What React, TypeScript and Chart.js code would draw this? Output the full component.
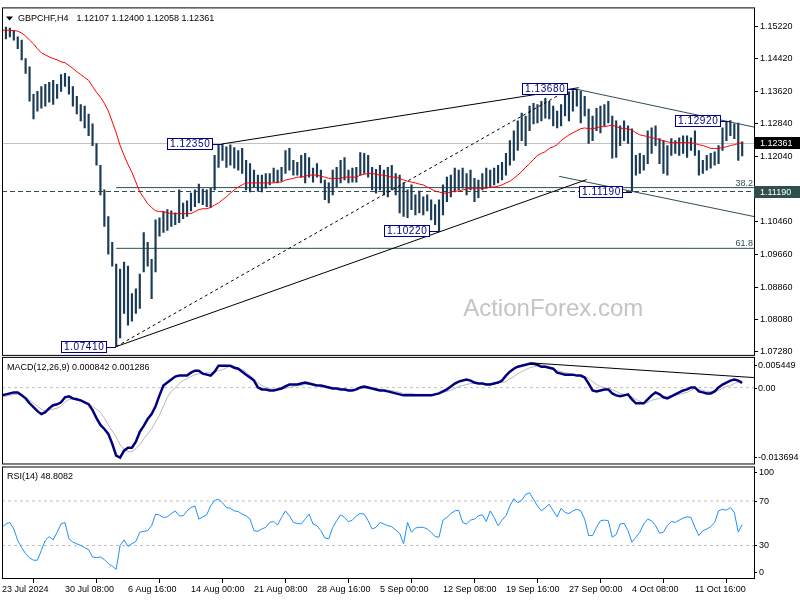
import React, { useEffect, useRef } from 'react';
import { Chart, registerables } from 'chart.js';

Chart.register(...registerables);

// ---------- text ----------
const symbolTitle = 'GBPCHF,H4';
const lastBarOHLC = ['1.12107', '1.12400', '1.12058', '1.12361'];
const macdTitle = 'MACD(12,26,9) 0.000842 0.001286';
const rsiTitle = 'RSI(14) 48.8082';
const watermark = 'ActionForex.com';

// ---------- time axis (one slot = two H4 bars) ----------
const timeTickLabels = [
  '23 Jul 2024', '30 Jul 08:00', '6 Aug 16:00', '14 Aug 00:00', '21 Aug 08:00', '28 Aug 16:00',
  '5 Sep 00:00', '12 Sep 08:00', '19 Sep 16:00', '27 Sep 00:00', '4 Oct 08:00', '11 Oct 16:00',
];
const TICK_STEP = 16;
const LAST_SLOT = 191;

// ---------- price bars ----------
const barHigh = [
  1.1515, 1.1520, 1.1517, 1.1512, 1.1496, 1.1488, 1.1443, 1.1423, 1.1356, 1.1363,
  1.1375, 1.1380, 1.1385, 1.1390, 1.1380, 1.1404, 1.1407, 1.1399, 1.1375, 1.1351,
  1.1331, 1.1327, 1.1308, 1.1284, 1.1236, 1.1183, 1.1123, 1.1058, 1.0995, 1.0942,
  1.0930, 1.0947, 1.0937, 1.0870, 1.0882, 1.0918, 1.1019, 1.0995, 1.0954, 1.1050,
  1.1055, 1.1070, 1.1075, 1.1072, 1.1067, 1.1123, 1.1091, 1.1096, 1.1115, 1.1123,
  1.1137, 1.1125, 1.1123, 1.1127, 1.1207, 1.1232, 1.1235, 1.1228, 1.1233, 1.1226,
  1.1219, 1.1224, 1.1195, 1.1187, 1.1171, 1.1159, 1.1159, 1.1163, 1.1163, 1.1176,
  1.1171, 1.1178, 1.1219, 1.1224, 1.1195, 1.1190, 1.1207, 1.1212, 1.1202, 1.1176,
  1.1187, 1.1171, 1.1147, 1.1140, 1.1171, 1.1178, 1.1195, 1.1202, 1.1171, 1.1176,
  1.1178, 1.1214, 1.1212, 1.1207, 1.1178, 1.1173, 1.1183, 1.1171, 1.1178, 1.1183,
  1.1163, 1.1159, 1.1140, 1.1123, 1.1135, 1.1111, 1.1120, 1.1106, 1.1111, 1.1099,
  1.1087, 1.1099, 1.1135, 1.1154, 1.1159, 1.1176, 1.1171, 1.1176, 1.1163, 1.1171,
  1.1151, 1.1147, 1.1163, 1.1176, 1.1171, 1.1176, 1.1183, 1.1190, 1.1212, 1.1243,
  1.1267, 1.1291, 1.1310, 1.1303, 1.1327, 1.1334, 1.1331, 1.1339, 1.1346, 1.1339,
  1.1327, 1.1315, 1.1331, 1.1360, 1.1362, 1.1365, 1.1368, 1.1363, 1.1351, 1.1320,
  1.1303, 1.1322, 1.1327, 1.1331, 1.1339, 1.1303, 1.1291, 1.1279, 1.1291, 1.1279,
  1.1272, 1.1207, 1.1212, 1.1207, 1.1267, 1.1274, 1.1279, 1.1248, 1.1243, 1.1231,
  1.1248, 1.1243, 1.1250, 1.1255, 1.1255, 1.1250, 1.1267, 1.1219, 1.1195, 1.1207,
  1.1212, 1.1216, 1.1231, 1.1274, 1.1288, 1.1292, 1.1284, 1.1286, 1.1240,
];
const barLow = [
  1.1488, 1.1491, 1.1496, 1.1488, 1.1467, 1.1440, 1.1407, 1.1339, 1.1296, 1.1315,
  1.1322, 1.1327, 1.1337, 1.1331, 1.1346, 1.1363, 1.1375, 1.1356, 1.1327, 1.1308,
  1.1291, 1.1274, 1.1255, 1.1231, 1.1183, 1.1111, 1.1034, 1.0966, 1.0937, 1.0741,
  1.0762, 1.0822, 1.0793, 1.0803, 1.0822, 1.0834, 1.0923, 1.0937, 1.0858, 1.0923,
  1.1010, 1.1019, 1.1024, 1.1034, 1.1038, 1.1043, 1.1053, 1.1058, 1.1072, 1.1082,
  1.1091, 1.1087, 1.1082, 1.1080, 1.1123, 1.1178, 1.1195, 1.1178, 1.1183, 1.1176,
  1.1171, 1.1163, 1.1123, 1.1118, 1.1130, 1.1120, 1.1118, 1.1127, 1.1135, 1.1142,
  1.1140, 1.1144, 1.1163, 1.1171, 1.1159, 1.1159, 1.1154, 1.1140, 1.1154, 1.1142,
  1.1154, 1.1140, 1.1099, 1.1091, 1.1111, 1.1130, 1.1140, 1.1147, 1.1140, 1.1142,
  1.1142, 1.1159, 1.1163, 1.1154, 1.1123, 1.1115, 1.1123, 1.1111, 1.1106, 1.1123,
  1.1111, 1.1067, 1.1058, 1.1055, 1.1075, 1.1062, 1.1067, 1.1062, 1.1072, 1.1050,
  1.1038, 1.1022, 1.1062, 1.1094, 1.1106, 1.1118, 1.1123, 1.1127, 1.1111, 1.1123,
  1.1094, 1.1104, 1.1123, 1.1127, 1.1130, 1.1135, 1.1140, 1.1147, 1.1159, 1.1183,
  1.1195, 1.1219, 1.1243, 1.1231, 1.1267, 1.1284, 1.1286, 1.1291, 1.1298, 1.1296,
  1.1279, 1.1274, 1.1279, 1.1303, 1.1291, 1.1315, 1.1327, 1.1286, 1.1303, 1.1236,
  1.1243, 1.1267, 1.1262, 1.1279, 1.1286, 1.1200, 1.1202, 1.1231, 1.1243, 1.1236,
  1.1119, 1.1159, 1.1163, 1.1171, 1.1187, 1.1212, 1.1231, 1.1187, 1.1163, 1.1159,
  1.1207, 1.1212, 1.1207, 1.1212, 1.1202, 1.1219, 1.1207, 1.1159, 1.1163, 1.1171,
  1.1176, 1.1183, 1.1187, 1.1219, 1.1243, 1.1255, 1.1248, 1.1195, 1.1206,
];

// ---------- moving average (red) ----------
const maLine = [
  1.1512, 1.1512, 1.1512, 1.1511, 1.1510, 1.1505, 1.1498, 1.1488, 1.1479, 1.1467,
  1.1457, 1.1452, 1.1447, 1.1443, 1.1440, 1.1435, 1.1433, 1.1426, 1.1419, 1.1411,
  1.1404, 1.1397, 1.1390, 1.1375, 1.1361, 1.1349, 1.1334, 1.1315, 1.1289, 1.1262,
  1.1231, 1.1207, 1.1185, 1.1166, 1.1142, 1.1118, 1.1104, 1.1089, 1.1080, 1.1072,
  1.1070, 1.1070, 1.1067, 1.1065, 1.1065, 1.1065, 1.1065, 1.1065, 1.1065, 1.1070,
  1.1075, 1.1077, 1.1077, 1.1080, 1.1086, 1.1091, 1.1099, 1.1106, 1.1115, 1.1123,
  1.1130, 1.1135, 1.1140, 1.1140, 1.1140, 1.1140, 1.1140, 1.1140, 1.1140, 1.1140,
  1.1142, 1.1142, 1.1147, 1.1149, 1.1151, 1.1154, 1.1154, 1.1156, 1.1159, 1.1159,
  1.1159, 1.1156, 1.1154, 1.1151, 1.1151, 1.1151, 1.1151, 1.1154, 1.1154, 1.1154,
  1.1154, 1.1159, 1.1161, 1.1163, 1.1163, 1.1161, 1.1159, 1.1159, 1.1156, 1.1154,
  1.1154, 1.1151, 1.1147, 1.1144, 1.1142, 1.1140, 1.1137, 1.1135, 1.1130, 1.1125,
  1.1120, 1.1118, 1.1115, 1.1115, 1.1118, 1.1120, 1.1120, 1.1123, 1.1125, 1.1127,
  1.1127, 1.1127, 1.1127, 1.1127, 1.1130, 1.1130, 1.1132, 1.1135, 1.1140, 1.1144,
  1.1151, 1.1159, 1.1168, 1.1178, 1.1187, 1.1197, 1.1207, 1.1212, 1.1216, 1.1224,
  1.1228, 1.1233, 1.1243, 1.1250, 1.1257, 1.1262, 1.1267, 1.1272, 1.1274, 1.1272,
  1.1272, 1.1274, 1.1277, 1.1277, 1.1279, 1.1281, 1.1277, 1.1274, 1.1272, 1.1272,
  1.1269, 1.1262, 1.1257, 1.1255, 1.1253, 1.1250, 1.1248, 1.1245, 1.1243, 1.1240,
  1.1238, 1.1238, 1.1238, 1.1238, 1.1238, 1.1238, 1.1236, 1.1233, 1.1231, 1.1228,
  1.1224, 1.1224, 1.1224, 1.1226, 1.1228, 1.1231, 1.1233, 1.1236, 1.1238,
];

// ---------- MACD ----------
const macdMain = [
  -0.00141, -0.00123, -0.00105, -0.00087, -0.00087, -0.00141, -0.00196, -0.00286, -0.00358, -0.00430,
  -0.00485, -0.00449, -0.00376, -0.00322, -0.00304, -0.00268, -0.00177, -0.00159, -0.00196, -0.00214,
  -0.00232, -0.00268, -0.00304, -0.00412, -0.00557, -0.00683, -0.00756, -0.00846, -0.01027, -0.01243,
  -0.01279, -0.01153, -0.01099, -0.01099, -0.00990, -0.00810, -0.00701, -0.00575, -0.00485, -0.00340,
  -0.00141, 0.00039, 0.00093, 0.00147, 0.00202, 0.00220, 0.00220, 0.00220, 0.00274, 0.00310,
  0.00310, 0.00256, 0.00238, 0.00220, 0.00292, 0.00400, 0.00400, 0.00400, 0.00400, 0.00364,
  0.00346, 0.00292, 0.00238, 0.00184, 0.00129, 0.00003, -0.00033, -0.00033, -0.00051, -0.00051,
  -0.00033, -0.00015, 0.00021, 0.00057, 0.00057, 0.00057, 0.00075, 0.00093, 0.00075, 0.00057,
  0.00039, 0.00039, 0.00021, 0.00003, -0.00015, -0.00015, -0.00033, -0.00033, -0.00051, -0.00051,
  -0.00033, 0.00003, 0.00021, 0.00003, -0.00015, -0.00033, -0.00051, -0.00051, -0.00069, -0.00087,
  -0.00105, -0.00123, -0.00141, -0.00141, -0.00141, -0.00141, -0.00141, -0.00141, -0.00141, -0.00141,
  -0.00123, -0.00105, -0.00069, -0.00033, 0.00021, 0.00075, 0.00111, 0.00129, 0.00147, 0.00129,
  0.00093, 0.00075, 0.00075, 0.00057, 0.00057, 0.00075, 0.00093, 0.00129, 0.00220, 0.00292,
  0.00346, 0.00382, 0.00400, 0.00418, 0.00436, 0.00436, 0.00418, 0.00382, 0.00382, 0.00364,
  0.00346, 0.00274, 0.00256, 0.00238, 0.00238, 0.00238, 0.00220, 0.00220, 0.00184, 0.00075,
  -0.00051, -0.00069, -0.00051, -0.00033, -0.00033, -0.00105, -0.00141, -0.00159, -0.00141, -0.00123,
  -0.00214, -0.00286, -0.00286, -0.00286, -0.00214, -0.00141, -0.00087, -0.00123, -0.00177, -0.00196,
  -0.00159, -0.00123, -0.00087, -0.00051, -0.00033, 0.00003, 0.00003, -0.00069, -0.00087, -0.00105,
  -0.00105, -0.00069, 0.00003, 0.00057, 0.00093, 0.00129, 0.00147, 0.00129, 0.00084,
];
const macdSignal = [
  -0.00177, -0.00159, -0.00141, -0.00123, -0.00123, -0.00141, -0.00177, -0.00232, -0.00286, -0.00340,
  -0.00394, -0.00430, -0.00412, -0.00394, -0.00376, -0.00340, -0.00268, -0.00214, -0.00214, -0.00232,
  -0.00250, -0.00268, -0.00304, -0.00340, -0.00394, -0.00449, -0.00557, -0.00683, -0.00792, -0.00900,
  -0.01045, -0.01135, -0.01171, -0.01171, -0.01117, -0.01045, -0.00936, -0.00846, -0.00756, -0.00629,
  -0.00503, -0.00340, -0.00177, -0.00069, 0.00003, 0.00075, 0.00129, 0.00165, 0.00202, 0.00238,
  0.00256, 0.00256, 0.00274, 0.00274, 0.00292, 0.00310, 0.00328, 0.00364, 0.00400, 0.00382,
  0.00364, 0.00328, 0.00292, 0.00220, 0.00165, 0.00093, 0.00039, 0.00003, -0.00015, -0.00033,
  -0.00033, -0.00015, -0.00015, 0.00003, 0.00021, 0.00039, 0.00039, 0.00057, 0.00057, 0.00057,
  0.00039, 0.00039, 0.00021, 0.00021, 0.00003, 0.00003, -0.00015, -0.00015, -0.00033, -0.00033,
  -0.00033, -0.00015, -0.00015, -0.00015, -0.00015, -0.00015, -0.00033, -0.00033, -0.00051, -0.00051,
  -0.00069, -0.00087, -0.00105, -0.00105, -0.00105, -0.00123, -0.00123, -0.00123, -0.00123, -0.00123,
  -0.00123, -0.00105, -0.00087, -0.00069, -0.00051, -0.00015, 0.00021, 0.00039, 0.00057, 0.00075,
  0.00075, 0.00075, 0.00075, 0.00075, 0.00075, 0.00075, 0.00093, 0.00093, 0.00111, 0.00165,
  0.00202, 0.00256, 0.00292, 0.00328, 0.00364, 0.00382, 0.00400, 0.00418, 0.00400, 0.00382,
  0.00346, 0.00310, 0.00292, 0.00274, 0.00256, 0.00238, 0.00220, 0.00220, 0.00202, 0.00165,
  0.00111, 0.00057, 0.00021, 0.00003, -0.00015, -0.00033, -0.00069, -0.00105, -0.00123, -0.00141,
  -0.00177, -0.00214, -0.00250, -0.00286, -0.00268, -0.00232, -0.00214, -0.00196, -0.00177, -0.00159,
  -0.00159, -0.00141, -0.00123, -0.00105, -0.00087, -0.00051, -0.00015, -0.00033, -0.00051, -0.00069,
  -0.00069, -0.00069, -0.00051, -0.00015, 0.00021, 0.00039, 0.00075, 0.00111, 0.00129,
];
const macdAxisValues = [0.005449, 0, -0.013694];
const macdTrendFrom = [134, 0.00454];
const macdTrendTo = [191, 0.00184];

// ---------- RSI ----------
const rsiValues = [
  46.3, 49.3, 50.7, 44.8, 34.5, 28.0, 22.6, 18.8, 16.7, 16.7,
  25.6, 34.5, 38.0, 35.0, 41.9, 49.3, 50.7, 35.9, 33.0, 31.5,
  30.0, 28.0, 26.2, 19.6, 19.0, 19.6, 17.3, 13.7, 11.3, 8.4,
  30.0, 35.0, 29.1, 31.5, 33.6, 41.9, 42.7, 43.3, 47.8, 58.2,
  57.3, 55.2, 55.8, 58.7, 61.1, 56.7, 56.7, 61.1, 64.1, 65.6,
  53.7, 55.8, 57.6, 65.6, 70.6, 71.5, 68.5, 64.1, 63.5, 61.1,
  60.5, 58.2, 56.7, 53.7, 43.3, 42.7, 44.8, 46.3, 50.7, 51.6,
  48.4, 55.2, 61.1, 56.7, 50.7, 49.9, 49.3, 53.7, 58.2, 49.3,
  47.8, 43.3, 36.8, 35.9, 46.3, 52.2, 57.6, 55.2, 51.3, 52.8,
  56.7, 58.7, 58.2, 52.2, 44.8, 46.3, 50.7, 49.3, 47.8, 46.9,
  43.9, 41.0, 31.5, 50.7, 41.9, 45.7, 46.3, 46.3, 44.8, 41.9,
  38.0, 37.4, 52.8, 55.2, 58.7, 61.1, 61.7, 50.7, 49.3, 52.8,
  53.7, 56.7, 57.6, 51.6, 61.1, 55.2, 47.8, 52.8, 56.7, 65.6,
  72.1, 68.5, 70.6, 76.0, 77.4, 71.5, 65.6, 61.1, 64.1, 67.0,
  61.1, 55.8, 63.5, 59.6, 58.7, 61.1, 62.6, 61.1, 53.7, 38.9,
  38.9, 46.3, 52.2, 52.8, 52.2, 37.4, 39.8, 49.3, 49.9, 43.3,
  33.0, 37.4, 41.9, 49.3, 53.7, 52.2, 47.8, 41.0, 41.9, 47.8,
  51.6, 50.7, 52.8, 54.6, 55.8, 55.2, 46.3, 38.9, 43.3, 44.8,
  46.9, 50.7, 61.1, 62.6, 61.7, 64.1, 59.6, 42.0, 48.8,
];
const rsiAxisValues = [100, 70, 30, 0];
const rsiLevels = [70, 30];

// ---------- price axis / levels / annotations ----------
const priceAxisTicks = [1.1522, 1.1442, 1.1362, 1.1284, 1.1204, 1.1046, 1.0966, 1.0886, 1.0808, 1.0728];
const lastPrice = 1.12361;
const supportLevel = 1.1119;
const swingLowIndex = 29;
const swingLow = 1.0741;
const swingHigh = 1.1368;
const fibLevels = [38.2, 61.8];

const pivotLabels = ['1.07410', '1.12350', '1.10220', '1.13680', '1.11190', '1.12920'];
const pivotIndex = [29, 56, 111, 146, 160, 185];
const pivotPrice = [1.0741, 1.1235, 1.1022, 1.1368, 1.1119, 1.1292];

// trend lines: [bar slot, price]
const trendFrom = [[56, 1.1235], [29, 1.0741], [29, 1.0741], [146, 1.1368], [141.5, 1.1156]];
const trendTo = [[146.5, 1.1372], [144, 1.1368], [148.5, 1.1148], [191, 1.1276], [191, 1.1058]];

// visible ranges of each pane
const priceMax = 1.15677;
const priceMin = 1.07184;
const macdMax = 0.005808;
const macdMin = -0.014058;
const rsiMax = 102.89;
const rsiMin = -0.22;

// ---------- styles ----------
const FAMILY = "'Liberation Sans', Arial, sans-serif";
const BAR_COLOR = '#1a3a56';
const SLATE = '#2f4f4f';
const NAVY = '#000080';

const xy = (arr: number[]) => arr.map((v, i) => ({ x: i, y: v }));
const seg = (a: number[], b: number[]) => [{ x: a[0], y: a[1] }, { x: b[0], y: b[1] }];
const flat = (v: number) => [{ x: 0, y: v }, { x: LAST_SLOT, y: v }];

const lineBase = { type: 'line', pointRadius: 0, borderWidth: 1, fill: false, tension: 0 };

const mt4Plugin = {
  id: 'mt4Panes',
  beforeDatasetsDraw(chart: any) {
    const { ctx } = chart;
    const x = chart.scales.x;
    const y = chart.scales.y;
    ctx.save();
    ctx.font = `24px ${FAMILY}`;
    ctx.fillStyle = '#c4c4c4';
    ctx.textAlign = 'center';
    ctx.textBaseline = 'alphabetic';
    ctx.fillText(watermark, x.getPixelForValue(140), y.bottom - 40);
    ctx.restore();
  },
  afterDatasetsDraw(chart: any) {
    const { ctx } = chart;
    const x = chart.scales.x;
    const y = chart.scales.y;
    ctx.save();
    // fib labels
    ctx.font = `9px ${FAMILY}`;
    ctx.fillStyle = SLATE;
    ctx.textAlign = 'right';
    ctx.textBaseline = 'alphabetic';
    fibLevels.forEach((l) => {
      const p = swingHigh - ((swingHigh - swingLow) * l) / 100;
      ctx.fillText(l.toFixed(1), x.right - 1, Math.round(y.getPixelForValue(p)) - 2);
    });
    // pivot price boxes
    ctx.font = `10px ${FAMILY}`;
    (ctx as any).letterSpacing = '0.6px';
    pivotLabels.forEach((t, k) => {
      const px = Math.round(x.getPixelForValue(pivotIndex[k]));
      const py = Math.round(y.getPixelForValue(pivotPrice[k]));
      const w = Math.ceil(ctx.measureText(t).width) + 4;
      const h = 11;
      const right = px - 10;
      const left = right - w;
      const top = py - 6;
      ctx.fillStyle = '#ffffff';
      ctx.fillRect(left, top, w, h);
      ctx.strokeStyle = NAVY;
      ctx.lineWidth = 1;
      ctx.strokeRect(left + 0.5, top + 0.5, w, h);
      ctx.beginPath();
      ctx.moveTo(right + 0.5, py + 0.5);
      ctx.lineTo(px, py + 0.5);
      ctx.stroke();
      ctx.fillStyle = NAVY;
      ctx.textAlign = 'left';
      ctx.textBaseline = 'middle';
      ctx.fillText(t, left + 3, top + h / 2 + 1);
    });
    ctx.restore();
  },
  afterDraw(chart: any) {
    const { ctx, chartArea } = chart;
    const L = chartArea.left;
    const R = chartArea.right;
    const yP = chart.scales.y;
    const yM = chart.scales.macd;
    const yR = chart.scales.rsi;
    ctx.save();
    // pane frames
    ctx.strokeStyle = '#000';
    ctx.lineWidth = 1;
    ctx.strokeRect(L + 0.5, yP.top + 0.5, R - L, yP.bottom - yP.top - 1);
    ctx.strokeRect(L + 0.5, yM.top + 1.5, R - L, yM.bottom - yM.top - 2);
    ctx.strokeRect(L + 0.5, yR.top + 2.5, R - L, yR.bottom - yR.top - 3);

    // titles
    ctx.fillStyle = '#000';
    ctx.font = `9px ${FAMILY}`;
    ctx.textAlign = 'left';
    ctx.textBaseline = 'alphabetic';
    ctx.beginPath();
    ctx.moveTo(L + 4, yP.top + 9);
    ctx.lineTo(L + 11, yP.top + 9);
    ctx.lineTo(L + 7.5, yP.top + 13);
    ctx.closePath();
    ctx.fill();
    ctx.fillText(symbolTitle, L + 16, yP.top + 14);
    const sw = ctx.measureText(symbolTitle).width;
    ctx.fillText(lastBarOHLC.join(' '), L + 16 + sw + 8, yP.top + 14);
    ctx.fillText(macdTitle, L + 5, yM.top + 14);
    ctx.fillText(rsiTitle, L + 5, yR.top + 15);

    // highlighted price-axis boxes
    const axisBox = (val: number, fill: string) => {
      const py = Math.round(yP.getPixelForValue(val));
      ctx.fillStyle = fill;
      ctx.fillRect(R, py - 6, chart.width - R, 12);
      ctx.fillStyle = '#fff';
      ctx.textBaseline = 'middle';
      ctx.fillText(val.toFixed(5), R + 6, py + 0.5);
    };
    axisBox(lastPrice, '#000000');
    axisBox(supportLevel, SLATE);

    // sub-pane axis labels (clamped inside pane like MT4)
    const side = (scale: any, vals: number[], fmt: (v: number) => string, tIn: number, bIn: number, dx: number) => {
      vals.forEach((v) => {
        const raw = scale.getPixelForValue(v);
        const py = Math.round(Math.min(Math.max(raw, scale.top + tIn), scale.bottom - bIn));
        ctx.fillStyle = '#000';
        ctx.textBaseline = 'middle';
        ctx.fillText(fmt(v), R + dx, py + 0.5);
        ctx.fillRect(R, py, 3, 1);
      });
    };
    side(yM, macdAxisValues, (v) => (v === 0 ? '0.00' : v.toFixed(6)), 9, 7, 4);
    side(yR, rsiAxisValues, (v) => String(v), 8, 7, 5);
    ctx.restore();
  },
};

export default function App() {
  const ref = useRef<HTMLCanvasElement>(null);

  useEffect(() => {
    document.body.style.margin = '0';
    Chart.defaults.font.family = FAMILY;
    Chart.defaults.font.size = 9;
    const fibPrice = (l: number) => swingHigh - ((swingHigh - swingLow) * l) / 100;

    const datasets: any[] = [
      { ...lineBase, data: seg(trendFrom[0], trendTo[0]), borderColor: '#000', yAxisID: 'y' },
      { ...lineBase, data: seg(trendFrom[1], trendTo[1]), borderColor: '#000', borderDash: [3, 3], yAxisID: 'y' },
      { ...lineBase, data: seg(trendFrom[2], trendTo[2]), borderColor: '#000', yAxisID: 'y' },
      { ...lineBase, data: seg(trendFrom[3], trendTo[3]), borderColor: SLATE, yAxisID: 'y' },
      { ...lineBase, data: seg(trendFrom[4], trendTo[4]), borderColor: SLATE, yAxisID: 'y' },
      { ...lineBase, data: xy(maLine), borderColor: '#ff0000', yAxisID: 'y' },
      {
        type: 'bar',
        data: barHigh.map((h, i) => ({ x: i, y: [barLow[i], h] })),
        backgroundColor: BAR_COLOR,
        borderWidth: 0,
        barThickness: 1.5,
        grouped: false,
        yAxisID: 'y',
      },
      ...fibLevels.map((l) => ({
        ...lineBase,
        data: [{ x: swingLowIndex, y: fibPrice(l) }, { x: LAST_SLOT, y: fibPrice(l) }],
        borderColor: SLATE,
        yAxisID: 'y',
      })),
      { ...lineBase, data: flat(supportLevel), borderColor: SLATE, borderDash: [5, 3], yAxisID: 'y' },
      { ...lineBase, data: flat(lastPrice), borderColor: '#c0c0c0', yAxisID: 'y' },
      { ...lineBase, data: seg(macdTrendFrom, macdTrendTo), borderColor: '#000', yAxisID: 'macd' },
      { ...lineBase, data: xy(macdMain), borderColor: NAVY, borderWidth: 2.5, yAxisID: 'macd' },
      { ...lineBase, data: xy(macdSignal), borderColor: '#b8b8b8', yAxisID: 'macd' },
      { ...lineBase, data: flat(0), borderColor: '#c0c0c0', borderDash: [3, 3], yAxisID: 'macd' },
      { ...lineBase, data: xy(rsiValues), borderColor: '#1e90ff', yAxisID: 'rsi' },
      ...rsiLevels.map((l) => ({
        ...lineBase,
        data: flat(l),
        borderColor: '#c0c0c0',
        borderDash: [3, 3],
        yAxisID: 'rsi',
      })),
    ];

    const subPane = (min: number, max: number, weight: number) => ({
      type: 'linear',
      position: 'right',
      stack: 'panes',
      stackWeight: weight,
      min,
      max,
      bounds: 'data',
      grid: { display: false },
      border: { display: false },
      ticks: { display: false },
      afterFit: (s: any) => {
        s.width = 46;
      },
    });

    const chart = new Chart(ref.current as HTMLCanvasElement, {
      type: 'line',
      data: { datasets },
      plugins: [mt4Plugin],
      options: {
        responsive: false,
        animation: false,
        devicePixelRatio: 1,
        events: [],
        layout: { padding: { left: 2, top: 0, right: 0, bottom: 0 } },
        plugins: { legend: { display: false }, tooltip: { enabled: false }, title: { display: false } },
        scales: {
          x: {
            type: 'linear',
            min: 0,
            max: LAST_SLOT,
            bounds: 'data',
            offset: false,
            grid: { display: true, drawOnChartArea: false, drawTicks: true, tickLength: 4, color: '#000' },
            border: { display: false },
            ticks: {
              autoSkip: false,
              maxRotation: 0,
              align: 'start',
              padding: 1,
              color: '#000',
              font: { size: 9, family: FAMILY },
              callback: (v: any) => timeTickLabels[Math.round(Number(v) / TICK_STEP)] ?? '',
            },
            afterBuildTicks: (s: any) => {
              s.ticks = timeTickLabels.map((_, k) => ({ value: k * TICK_STEP }));
            },
            afterFit: (s: any) => {
              s.height = 21;
            },
          },
          y: {
            type: 'linear',
            position: 'right',
            stack: 'panes',
            stackWeight: 353,
            min: priceMin,
            max: priceMax,
            bounds: 'data',
            grid: { display: true, drawOnChartArea: false, drawTicks: true, tickLength: 4, color: '#000' },
            border: { display: false },
            ticks: {
              padding: 2,
              color: '#000',
              font: { size: 9, family: FAMILY },
              callback: (v: any) => Number(v).toFixed(5),
            },
            afterBuildTicks: (s: any) => {
              s.ticks = priceAxisTicks.map((v) => ({ value: v }));
            },
            afterFit: (s: any) => {
              s.width = 46;
            },
          },
          macd: subPane(macdMin, macdMax, 110),
          rsi: subPane(rsiMin, rsiMax, 116),
        },
      } as any,
    } as any);

    return () => chart.destroy();
  }, []);

  return (
    <div style={{ width: 800, height: 600 }}>
      <canvas ref={ref} width={800} height={600} style={{ display: 'block' }} />
    </div>
  );
}
